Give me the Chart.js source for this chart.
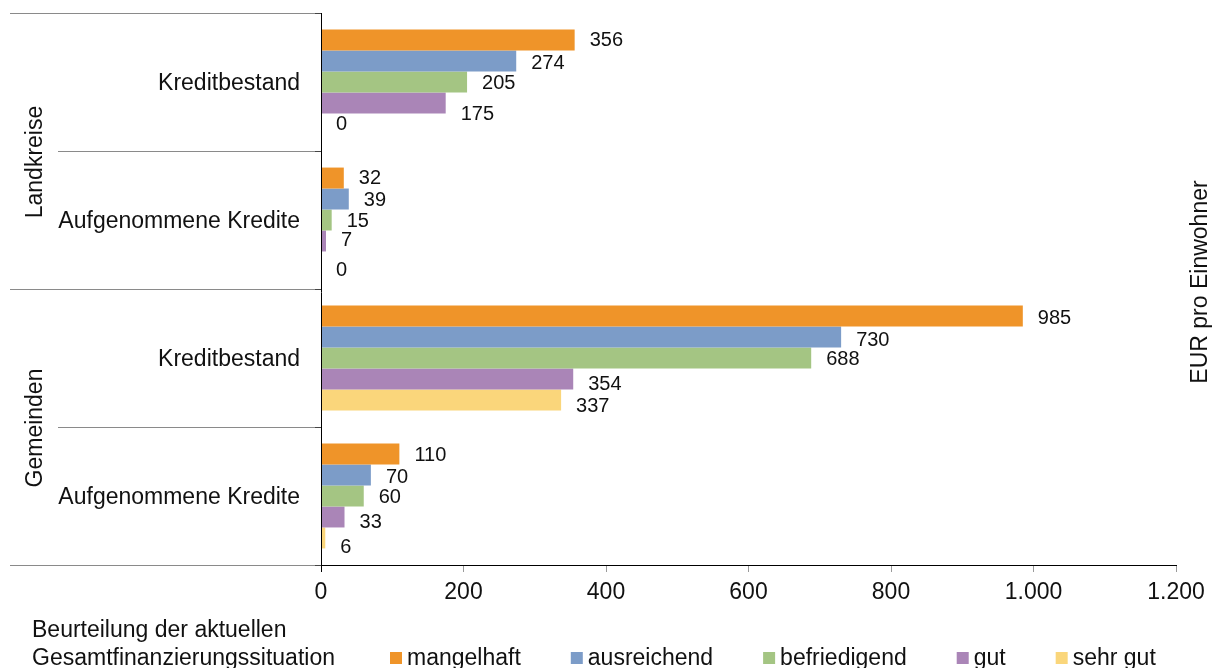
<!DOCTYPE html>
<html lang="de">
<head>
<meta charset="utf-8">
<title>Kredite pro Einwohner</title>
<script src="https://cdn.jsdelivr.net/npm/chart.js@4.4.1/dist/chart.umd.min.js"></script>
<style>
  html, body { margin: 0; padding: 0; background: #fff; }
  #wrap { position: relative; width: 1212px; height: 668px; }
</style>
</head>
<body>
<div id="wrap"><canvas id="c" width="1212" height="668"></canvas></div>
<script>
// ---- data ----
const categories = ['Kreditbestand', 'Aufgenommene Kredite', 'Kreditbestand', 'Aufgenommene Kredite'];
const groups = ['Landkreise', 'Gemeinden'];
const seriesNames = ['mangelhaft', 'ausreichend', 'befriedigend', 'gut', 'sehr gut'];
const mangelhaft   = [356, 32, 985, 110];
const ausreichend  = [274, 39, 730, 70];
const befriedigend = [205, 15, 688, 60];
const gut          = [175, 7, 354, 33];
const sehrGut      = [0, 0, 337, 6];
const tickValues = [0, 200, 400, 600, 800, 1000, 1200];
const axisTitle = 'EUR pro Einwohner';
const legendTitle = ['Beurteilung der aktuellen', 'Gesamtfinanzierungssituation'];

// ---- styling ----
const FONT = "'Liberation Sans', Arial, Helvetica, sans-serif";
const colors = ['#EF9429', '#7C9CC8', '#A4C583', '#AA85B7', '#FAD67B'];
// vertical offset of each value label (per series, per category), in px
const labelNudge = [
  [0, 0, 2, 1],
  [2, 1, 3, 2],
  [1, 1, 1, 1],
  [12, 0, 6, 6],
  [1, 9, 7, 10]
];

function fmt(v) {
  return String(v).replace(/\B(?=(\d{3})+(?!\d))/g, '.');
}

const seriesValues = [mangelhaft, ausreichend, befriedigend, gut, sehrGut];

const decorations = {
  id: 'decorations',
  afterDraw(chart) {
    const ctx = chart.ctx;
    const area = chart.chartArea;
    const yScale = chart.scales.y;
    const n = categories.length;
    const step = (area.bottom - area.top) / n;

    ctx.save();

    // category separators (long ones bound each group)
    ctx.lineWidth = 1;
    for (let i = 0; i <= n; i++) {
      const y = Math.round(area.top + i * step) + 0.5;
      const x0 = (i % 2 === 0) ? 10 : 58;
      ctx.strokeStyle = '#8a8a8a';
      ctx.beginPath();
      ctx.moveTo(x0, y);
      ctx.lineTo(area.left - 6, y);
      ctx.stroke();
      ctx.strokeStyle = '#444';
      ctx.beginPath();
      ctx.moveTo(area.left - 6, y);
      ctx.lineTo(area.left, y);
      ctx.stroke();
    }

    // vertical axis line
    ctx.strokeStyle = '#000';
    ctx.beginPath();
    ctx.moveTo(area.left + 0.5, area.top);
    ctx.lineTo(area.left + 0.5, area.bottom + 7);
    ctx.stroke();

    // category labels
    ctx.fillStyle = '#111';
    ctx.font = '23px ' + FONT;
    ctx.textAlign = 'right';
    ctx.textBaseline = 'alphabetic';
    categories.forEach((c, i) => {
      const yc = yScale.getPixelForValue(i);
      ctx.fillText(c, 300, yc + 8);
    });

    // group labels, rotated
    const groupCenters = [162, 428];
    groups.forEach((g, i) => {
      ctx.save();
      ctx.translate(42, groupCenters[i]);
      ctx.rotate(-Math.PI / 2);
      ctx.textAlign = 'center';
      ctx.fillText(g, 0, 0);
      ctx.restore();
    });

    // value axis title on the right
    ctx.save();
    ctx.translate(1207, 282);
    ctx.rotate(-Math.PI / 2);
    ctx.textAlign = 'center';
    ctx.fillText(axisTitle, 0, 0);
    ctx.restore();

    // value labels
    ctx.font = '20px ' + FONT;
    ctx.textAlign = 'left';
    ctx.textBaseline = 'middle';
    chart.data.datasets.forEach((ds, di) => {
      const meta = chart.getDatasetMeta(di);
      meta.data.forEach((bar, i) => {
        ctx.fillText(fmt(ds.data[i]), bar.x + 15, bar.y + labelNudge[di][i]);
      });
    });

    // legend
    ctx.font = '23px ' + FONT;
    ctx.textBaseline = 'alphabetic';
    ctx.fillText(legendTitle[0], 32, 637);
    ctx.fillText(legendTitle[1], 32, 665);
    let lx = 390;
    chart.data.datasets.forEach((ds) => {
      ctx.fillStyle = ds.backgroundColor;
      ctx.fillRect(lx, 652, 12, 12);
      ctx.fillStyle = '#111';
      ctx.fillText(ds.label, lx + 17, 665);
      lx += 17 + ctx.measureText(ds.label).width + 50;
    });

    ctx.restore();
  }
};

new Chart(document.getElementById('c'), {
  type: 'bar',
  data: {
    labels: categories,
    datasets: seriesNames.map((name, i) => ({
      label: name,
      data: seriesValues[i],
      backgroundColor: colors[i],
      borderWidth: 0,
      categoryPercentage: 0.76,
      barPercentage: 1
    }))
  },
  options: {
    indexAxis: 'y',
    responsive: false,
    animation: false,
    layout: { padding: { top: 13, right: 36, left: 0, bottom: 0 } },
    plugins: { legend: { display: false }, tooltip: { enabled: false } },
    scales: {
      x: {
        min: 0,
        max: 1200,
        afterBuildTicks: (s) => { s.ticks = tickValues.map(v => ({ value: v })); },
        ticks: {
          color: '#111',
          font: { family: FONT, size: 23 },
          padding: 7,
          maxRotation: 0,
          callback: (v) => fmt(v)
        },
        grid: { drawOnChartArea: false, drawTicks: true, tickLength: 7, color: '#9a9a9a' },
        border: { display: true, color: '#000', width: 1 },
        afterFit: (s) => { s.height = 103; }
      },
      y: {
        ticks: { display: false },
        grid: { display: false },
        border: { display: false },
        afterFit: (s) => { s.width = 321; }
      }
    }
  },
  plugins: [decorations]
});
</script>
</body>
</html>
